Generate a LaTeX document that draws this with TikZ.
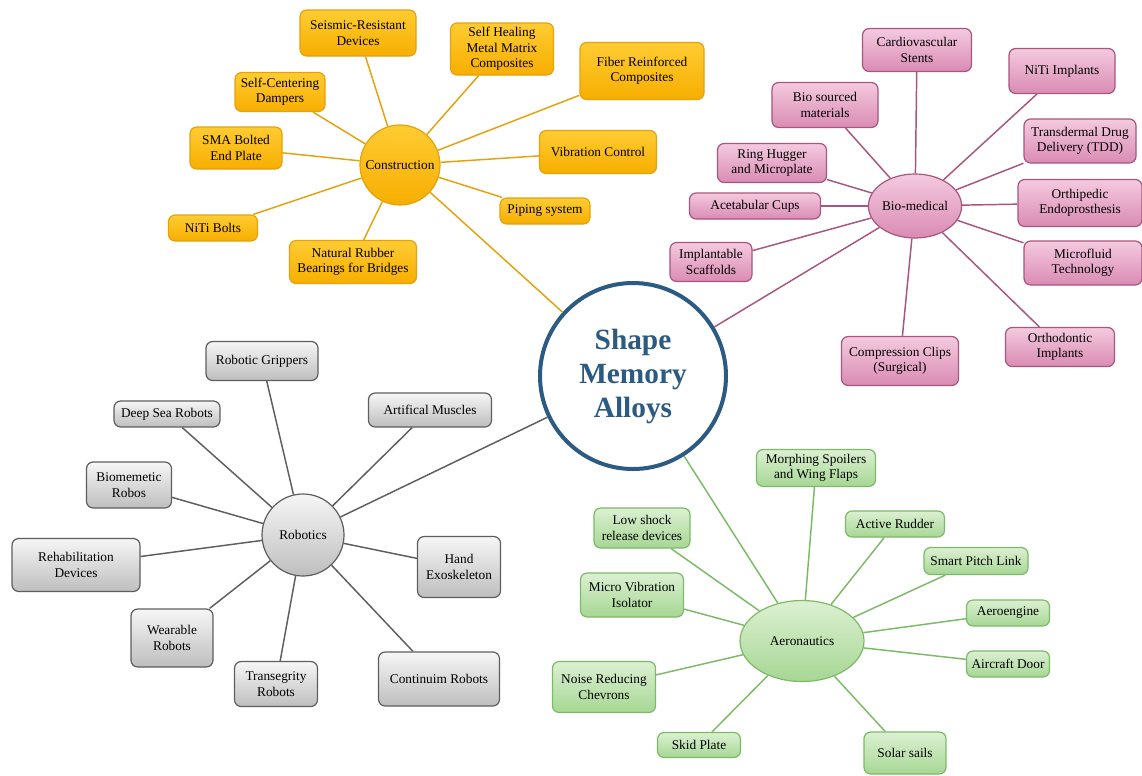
\documentclass[tikz,border=0pt]{standalone}
\usepackage{fontspec}
\setmainfont{Liberation Serif}
\usetikzlibrary{shapes.geometric}

\definecolor{smablue}{HTML}{2B5A82}
\definecolor{ortop}{HTML}{FFCC33}
\definecolor{orbot}{HTML}{F7AE00}
\definecolor{orline}{HTML}{E4A20C}
\definecolor{pktop}{HTML}{F4CADF}
\definecolor{pkbot}{HTML}{DA8BB3}
\definecolor{pkline}{HTML}{A8557F}
\definecolor{grtop}{HTML}{F6F6F6}
\definecolor{grbot}{HTML}{BEBEBE}
\definecolor{grline}{HTML}{5E5E5E}
\definecolor{gntop}{HTML}{DCF0D2}
\definecolor{gnbot}{HTML}{A6D794}
\definecolor{gnline}{HTML}{7DBA68}

\tikzset{
  wh/.style 2 args={minimum width=#1*0.75pt,minimum height=#2*0.75pt},
  box/.style={rectangle,rounded corners=5pt,align=center,inner sep=1pt,
    line width=0.9pt,font=\fontsize{10}{11.5}\selectfont},
  hub/.style={align=center,inner sep=0pt,line width=0.9pt,
    font=\fontsize{10}{11.5}\selectfont},
  obox/.style={box,draw=orline,top color=ortop,bottom color=orbot},
  pbox/.style={box,draw=pkline,top color=pktop,bottom color=pkbot},
  gbox/.style={box,draw=grline,top color=grtop,bottom color=grbot},
  nbox/.style={box,draw=gnline,top color=gntop,bottom color=gnbot},
  oline/.style={draw=orline,line width=1.1pt},
  pline/.style={draw=pkline,line width=1.1pt},
  gline/.style={draw=grline,line width=1.1pt},
  nline/.style={draw=gnline,line width=1.1pt}
}

\begin{document}
\begin{tikzpicture}[x=0.75pt,y=-0.75pt]
\useasboundingbox [fill=white] (0,0) rectangle (1142,775);

% centre
\node [circle,draw=smablue,line width=3pt,fill=white,text=smablue,align=center,
  minimum size=186*0.75pt,font=\fontsize{22}{25.5}\selectfont\bfseries]
  (alloy) at (633,376) {Shape\\Memory\\Alloys};

% construction
\node [hub,circle,draw=orline,top color=ortop,bottom color=orbot,wh={80}{80}] (cons) at (400,165) {Construction};
\node [obox,wh={116}{46}] (seis) at (358,33) {Seismic-Resistant\\Devices};
\node [obox,wh={103}{52}] (heal) at (502,49) {Self Healing\\Metal Matrix\\Composites};
\node [obox,wh={124}{57}] (fiber) at (642,71) {Fiber Reinforced\\Composites};
\node [obox,wh={90}{39}] (damp) at (280,92) {Self-Centering\\Dampers};
\node [obox,wh={92}{42}] (smab) at (236,148) {SMA Bolted\\End Plate};
\node [obox,wh={117}{43}] (vib) at (598,152) {Vibration Control};
\node [obox,wh={90}{26}] (pipe) at (545,211) {Piping system};
\node [obox,wh={89}{26}] (bolt) at (213,228) {NiTi Bolts};
\node [obox,wh={127}{43}] (rubber) at (353,262) {Natural Rubber\\Bearings for Bridges};
\draw [oline] (cons) -- (seis);
\draw [oline] (cons) -- (heal);
\draw [oline] (cons) -- (fiber);
\draw [oline] (cons) -- (damp);
\draw [oline] (cons) -- (smab);
\draw [oline] (cons) -- (vib);
\draw [oline] (cons) -- (pipe);
\draw [oline] (cons) -- (bolt);
\draw [oline] (cons) -- (rubber);
\draw [oline] (cons) -- (alloy);

% bio-medical
\node [hub,ellipse,draw=pkline,top color=pktop,bottom color=pkbot,wh={85}{64}] (bio) at (915,206) {Bio-medical};
\node [pbox,wh={109}{43}] (stent) at (917,50) {Cardiovascular\\Stents};
\node [pbox,wh={106}{45}] (nitimp) at (1062,71) {NiTi Implants};
\node [pbox,wh={106}{45}] (biosrc) at (825,105) {Bio sourced\\materials};
\node [pbox,wh={109}{39}] (ring) at (772,163) {Ring Hugger\\and Microplate};
\node [pbox,wh={112}{44}] (tdd) at (1080,141) {Transdermal Drug\\Delivery (TDD)};
\node [pbox,wh={131}{26}] (cups) at (755,206) {Acetabular Cups};
\node [pbox,wh={124}{47}] (endo) at (1080,203) {Orthipedic\\Endoprosthesis};
\node [pbox,wh={82}{39}] (scaf) at (711,262) {Implantable\\Scaffolds};
\node [pbox,wh={118}{44}] (microf) at (1083,263) {Microfluid\\Technology};
\node [pbox,wh={117}{49}] (clips) at (900,361) {Compression Clips\\(Surgical)};
\node [pbox,wh={109}{39}] (ortho) at (1060,347) {Orthodontic\\Implants};
\draw [pline] (bio) -- (stent);
\draw [pline] (bio) -- (nitimp);
\draw [pline] (bio) -- (biosrc);
\draw [pline] (bio) -- (ring);
\draw [pline] (bio) -- (tdd);
\draw [pline] (bio) -- (cups);
\draw [pline] (bio) -- (endo);
\draw [pline] (bio) -- (scaf);
\draw [pline] (bio) -- (microf);
\draw [pline] (bio) -- (clips);
\draw [pline] (bio) -- (ortho);
\draw [pline] (bio) -- (alloy);

% robotics
\node [hub,circle,draw=grline,top color=grtop,bottom color=grbot,wh={82}{82}] (robo) at (303,535) {Robotics};
\node [gbox,wh={112}{39}] (grip) at (262,361) {Robotic Grippers};
\node [gbox,wh={106}{26}] (deep) at (167,414) {Deep Sea Robots};
\node [gbox,wh={123}{34}] (muscle) at (430,410) {Artifical Muscles};
\node [gbox,wh={85}{46}] (biomim) at (129,485) {Biomemetic\\Robos};
\node [gbox,wh={128}{53}] (rehab) at (76,565) {Rehabilitation\\Devices};
\node [gbox,wh={83}{61}] (hand) at (459,567) {Hand\\Exoskeleton};
\node [gbox,wh={82}{58}] (wear) at (172,638) {Wearable\\Robots};
\node [gbox,wh={83}{45}] (tens) at (276,684) {Transegrity\\Robots};
\node [gbox,wh={121}{54}] (cont) at (439,679) {Continuim Robots};
\draw [gline] (robo) -- (grip);
\draw [gline] (robo) -- (deep);
\draw [gline] (robo) -- (muscle);
\draw [gline] (robo) -- (biomim);
\draw [gline] (robo) -- (rehab);
\draw [gline] (robo) -- (hand);
\draw [gline] (robo) -- (wear);
\draw [gline] (robo) -- (tens);
\draw [gline] (robo) -- (cont);
\draw [gline] (robo) -- (alloy);

% aeronautics
\node [hub,ellipse,draw=gnline,top color=gntop,bottom color=gnbot,wh={124}{81}] (aero) at (802,641) {Aeronautics};
\node [nbox,wh={119}{37}] (morph) at (816,468) {Morphing Spoilers\\and Wing Flaps};
\node [nbox,wh={96}{40}] (shock) at (642,528) {Low shock\\release devices};
\node [nbox,wh={99}{26}] (rudder) at (895,524) {Active Rudder};
\node [nbox,wh={104}{27}] (pitch) at (976,561) {Smart Pitch Link};
\node [nbox,wh={103}{44}] (isol) at (632,595) {Micro Vibration\\Isolator};
\node [nbox,wh={83}{26}] (engine) at (1008,613) {Aeroengine};
\node [nbox,wh={83}{26}] (door) at (1008,664) {Aircraft Door};
\node [nbox,wh={103}{51}] (chev) at (604,687) {Noise Reducing\\Chevrons};
\node [nbox,wh={83}{25}] (skid) at (699,745) {Skid Plate};
\node [nbox,wh={82}{42}] (solar) at (905,753) {Solar sails};
\draw [nline] (aero) -- (morph);
\draw [nline] (aero) -- (shock);
\draw [nline] (aero) -- (rudder);
\draw [nline] (aero) -- (pitch);
\draw [nline] (aero) -- (isol);
\draw [nline] (aero) -- (engine);
\draw [nline] (aero) -- (door);
\draw [nline] (aero) -- (chev);
\draw [nline] (aero) -- (skid);
\draw [nline] (aero) -- (solar);
\draw [nline] (aero) -- (alloy);
\end{tikzpicture}
\end{document}
